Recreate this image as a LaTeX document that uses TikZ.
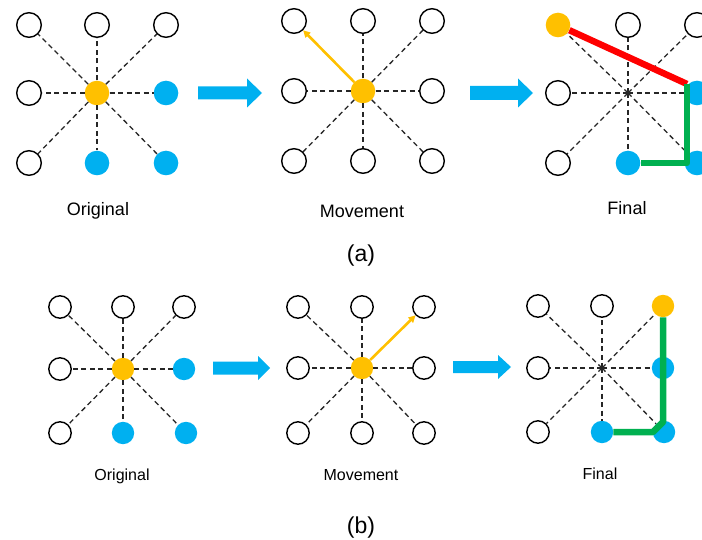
\documentclass[tikz,border=0pt]{standalone}
\usepackage{fontspec}
\setmainfont{Liberation Sans}
\usetikzlibrary{arrows.meta}

\definecolor{dotblue}{HTML}{00B0F0}
\definecolor{dotorange}{HTML}{FFC000}
\definecolor{pathred}{HTML}{FF0000}
\definecolor{pathgreen}{HTML}{00B050}

\tikzset{
  cell/.style={circle, inner sep=0pt, minimum size=24.6pt},
  small/.style={minimum size=22.4pt},
  wc/.style={cell, draw=black, line width=1.4pt, fill=white},
  bc/.style={cell, fill=dotblue},
  oc/.style={cell, fill=dotorange},
  wcs/.style={wc, small}, bcs/.style={bc, small}, ocs/.style={oc, small},
  spoke/.style={black!85, line width=1.3pt, dash pattern=on 5pt off 3.5pt},
  moveline/.style={dotorange, line width=2.6pt,
    -{Triangle[length=7pt,width=7pt]}},
  trail/.style={line width=6.5pt, line join=round},
  caption/.style={font=\fontsize{18}{20}\selectfont, anchor=base},
  captionb/.style={font=\fontsize{16}{18}\selectfont, anchor=base},
  tag/.style={font=\fontsize{23}{25}\selectfont, anchor=base},
}

% thick block arrow: start x, head base x, tip x, y, body half, head half
\newcommand\fatarrow[6]{%
  \fill[dotblue] (#1,#4-#5) -- (#2,#4-#5) -- (#2,#4-#6) -- (#3,#4)
    -- (#2,#4+#6) -- (#2,#4+#5) -- (#1,#4+#5) -- cycle;}

\begin{document}
\begin{tikzpicture}[x=1pt,y=-1pt]
\useasboundingbox (0,0) rectangle (702,540);

% ---------------- row (a) ----------------
% original
\foreach \n/\x/\y/\s in {11/29/25/wc,12/97/25/wc,13/166/25/wc,
    21/29/93/wc,22/97/93/oc,23/166/93/bc,
    31/29/163/wc,32/97/163/bc,33/166/163/bc}
  \node[\s] (aO\n) at (\x,\y) {};
\foreach \k in {11,12,13,21,23,31,32,33}
  \draw[spoke] (aO22) -- (aO\k);

% movement
\foreach \n/\x/\y/\s in {11/294/21/wc,12/363/21/wc,13/432/21/wc,
    21/294/91/wc,22/363/91/oc,23/432/91/wc,
    31/294/161/wc,32/363/161/wc,33/432/161/wc}
  \node[\s] (aM\n) at (\x,\y) {};
\foreach \k in {12,13,21,23,31,32,33}
  \draw[spoke] (aM22) -- (aM\k);
\draw[moveline] (aM22) -- (aM11);

% final
\coordinate (aF22) at (628,93);
\foreach \n/\x/\y/\s in {11/558/25/oc,12/628/25/wc,13/697/25/wc,
    21/558/93/wc,23/697/93/bc,
    31/558/163/wc,32/628/163/bc,33/697/163/bc}
  \node[\s] (aF\n) at (\x,\y) {};
\foreach \k in {11,12,13,21,23,31,32,33}
  \draw[spoke] (aF22) -- (aF\k);
\coordinate (aTurn1) at (687,84);
\coordinate (aTurn2) at (687,163);
\draw[trail, pathred] (aF11) -- (aTurn1);
\draw[trail, pathgreen] (aTurn1) -- (aTurn2) -- (aF32.east);

\fatarrow{198}{247}{262}{93}{6.5}{14.5}
\fatarrow{470}{518}{533}{93}{7}{14.5}

\node[caption] (capAO) at (98,216) {Original};
\node[caption] (capAM) at (362,218) {Movement};
\node[caption] (capAF) at (627,215) {Final};
\node[tag] (tagA) at (361,262) {(a)};

% ---------------- row (b) ----------------
% original
\foreach \n/\x/\y/\s in {11/60/307/wcs,12/123/307/wcs,13/184/307/wcs,
    21/60/369/wcs,22/123/369/ocs,23/184/369/bcs,
    31/60/433/wcs,32/123/433/bcs,33/186/433/bcs}
  \node[\s] (bO\n) at (\x,\y) {};
\foreach \k in {11,12,13,21,23,31,32,33}
  \draw[spoke] (bO22) -- (bO\k);

% movement
\foreach \n/\x/\y/\s in {11/298/307/wcs,12/362/307/wcs,13/424/307/wcs,
    21/298/368/wcs,22/362/368/ocs,23/424/368/wcs,
    31/298/433/wcs,32/362/433/wcs,33/424/433/wcs}
  \node[\s] (bM\n) at (\x,\y) {};
\foreach \k in {11,12,21,23,31,32,33}
  \draw[spoke] (bM22) -- (bM\k);
\draw[moveline] (bM22) -- (bM13);

% final
\coordinate (bF22) at (602,368);
\foreach \n/\x/\y/\s in {11/538/306/wcs,12/602/306/wcs,13/663/306/ocs,
    21/538/368/wcs,23/663/368/bcs,
    31/538/432/wcs,32/602/432/bcs,33/664/432/bcs}
  \node[\s] (bF\n) at (\x,\y) {};
\foreach \k in {11,12,13,21,23,31,32,33}
  \draw[spoke] (bF22) -- (bF\k);
\coordinate (bTurn1) at (663,422);
\coordinate (bTurn2) at (653,432);
\draw[trail, pathgreen] (bF13.south) -- (bTurn1) -- (bTurn2) -- (bF32.east);

\fatarrow{213}{258}{270}{368}{6.5}{12}
\fatarrow{453}{498}{511}{367}{6}{12}

\node[captionb] (capBO) at (122,480) {Original};
\node[captionb] (capBM) at (361,480) {Movement};
\node[captionb] (capBF) at (600,479) {Final};
\node[tag] (tagB) at (361,533) {(b)};
\end{tikzpicture}
\end{document}
